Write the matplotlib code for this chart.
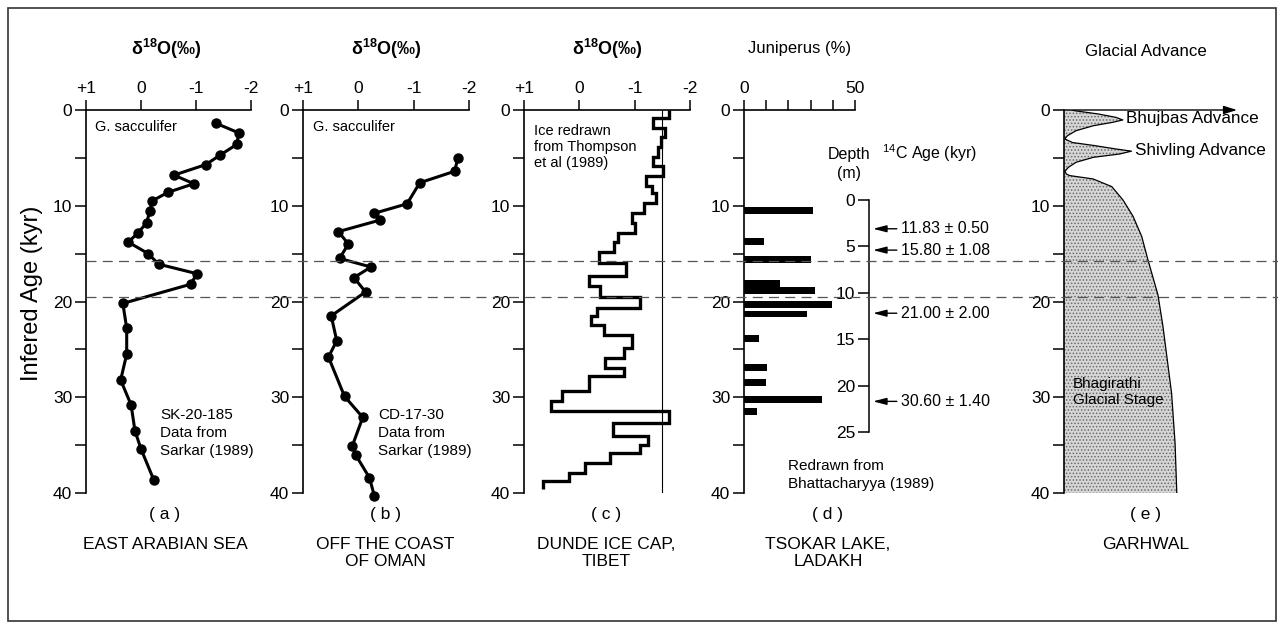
import matplotlib
matplotlib.use('Agg')
import matplotlib.pyplot as plt
from matplotlib import transforms
from matplotlib.lines import Line2D
from matplotlib.patches import Rectangle

plt.rcParams['font.family'] = ['Liberation Sans', 'DejaVu Sans']
plt.rcParams['hatch.linewidth'] = 0.7

# ---------------- data ----------------
# (a) East Arabian Sea, SK-20-185
a_age = [1.4, 2.4, 3.6, 4.7, 5.7, 6.8, 7.7, 8.6, 9.5, 10.6, 11.8, 12.8, 13.8,
         15.0, 16.1, 17.1, 18.2, 20.2, 22.8, 25.5, 28.2, 30.8, 33.5, 35.4, 38.6]
a_d18o = [-1.37, -1.78, -1.74, -1.44, -1.18, -0.60, -0.96, -0.49, -0.20, -0.16,
          -0.10, 0.05, 0.23, -0.13, -0.32, -1.02, -0.90, 0.33, 0.26, 0.26,
          0.37, 0.18, 0.11, 0.0, -0.23]

# (b) Off the coast of Oman, CD-17-30
b_age = [5.0, 6.4, 7.6, 9.8, 10.8, 11.5, 12.7, 14.0, 15.5, 16.4, 17.5, 19.0,
         21.5, 24.1, 25.8, 29.9, 32.1, 35.1, 36.0, 38.4, 40.3]
b_d18o = [-1.80, -1.74, -1.11, -0.88, -0.28, -0.39, 0.36, 0.18, 0.34, -0.23,
          0.08, -0.13, 0.49, 0.39, 0.54, 0.25, -0.08, 0.11, 0.05, -0.20, -0.29]

# (c) Dunde ice cap (stepped record): age edges and values between them
c_edges = [0.0, 0.87, 1.91, 2.78, 3.90, 4.87, 5.84, 6.89, 7.93, 8.63, 9.74,
           10.78, 11.83, 12.87, 13.81, 14.78, 16.0, 17.32, 18.43, 19.48, 20.7,
           21.5, 22.43, 23.48, 24.87, 25.91, 26.96, 27.83, 29.39, 30.43, 31.48,
           32.7, 34.02, 34.96, 35.83, 36.87, 37.91, 38.78, 39.6]
c_d18o = [-1.62, -1.33, -1.54, -1.48, -1.43, -1.34, -1.51, -1.21, -1.31, -1.39,
          -1.16, -0.95, -1.01, -0.69, -0.63, -0.35, -0.85, -0.18, -0.37, -1.09,
          -0.32, -0.21, -0.44, -0.96, -0.80, -0.46, -0.80, -0.18, 0.31, 0.52,
          -1.62, -0.61, -1.24, -1.10, -0.55, -0.11, 0.18, 0.66]
c_ref = -1.5

# (d) Tsokar Lake, Juniperus (%)
d_age = [10.5, 13.7, 15.65, 18.15, 18.85, 20.3, 21.3, 23.9, 26.9, 28.45, 30.25, 31.5]
d_pct = [31.2, 8.9, 30.1, 16.1, 31.9, 39.5, 28.5, 6.8, 10.4, 9.8, 35.0, 6.0]
depth_ticks = [0, 5, 10, 15, 20, 25]
c14_depth = [3.1, 5.4, 12.2, 21.7]
c14_labels = ['11.83 \u00b1 0.50', '15.80 \u00b1 1.08', '21.00 \u00b1 2.00', '30.60 \u00b1 1.40']

# (e) Garhwal glacial advance profile (relative extent)
e_age = [0.0, 0.07, 0.42, 0.77, 1.04, 1.29, 1.64, 2.16, 2.68, 3.03, 3.4, 3.7,
         4.07, 4.3, 4.6, 4.94, 5.46, 5.99, 6.4, 6.68, 6.85, 7.2, 8.0, 9.4,
         11.1, 13.2, 15.7, 19.3, 22.6, 29.6, 34.8, 40.0]
e_ext = [5, 6, 20, 30, 34, 28, 17, 7, 2, 0.5, 5, 17, 30, 39, 32, 17, 7, 2.5,
         0.6, 1.3, 3.3, 16.8, 27.6, 34.1, 39.9, 44.9, 48.6, 54.3, 57.2, 62.2,
         64.2, 65.2]

# timing of the dashed reference horizons (kyr)
horizons = [15.8, 19.5]

# ---------------- figure ----------------
W, H = 1278, 625
fig = plt.figure(figsize=(W / 100, H / 100), dpi=100)


def rect(l, r, t=110, b=493):
    return [l / W, 1 - b / H, (r - l) / W, (b - t) / H]


def ftext(x, y, s, **kw):
    kw.setdefault('fontsize', 11)
    kw.setdefault('ha', 'center')
    kw.setdefault('va', 'center')
    fig.text(x / W, 1 - y / H, s, **kw)


def style(ax, xlim, xticks, xlabels):
    ax.set_ylim(40, 0)
    ax.set_xlim(*xlim)
    ax.patch.set_alpha(0)
    for s in ['right', 'bottom']:
        ax.spines[s].set_visible(False)
    for s in ['left', 'top']:
        ax.spines[s].set_linewidth(1.2)
    ax.xaxis.tick_top()
    ax.set_xticks(xticks)
    ax.set_xticklabels(xlabels)
    ax.set_yticks([0, 10, 20, 30, 40])
    ax.set_yticks([5, 15, 25, 35], minor=True)
    ax.tick_params(axis='y', which='both', direction='out', length=8, width=1.1,
                   labelsize=12.5, pad=2)
    ax.tick_params(axis='x', which='both', direction='out', length=7, width=1.1,
                   labelsize=12.5, pad=3)


d18_ticks = [1, 0, -1, -2]
d18_labels = ['+1', '0', '-1', '-2']

ax_a = fig.add_axes(rect(86, 251))
style(ax_a, (1, -2), d18_ticks, d18_labels)
ax_a.plot(a_d18o, a_age, '-o', color='k', lw=2.2, ms=6.5, clip_on=False)

ax_b = fig.add_axes(rect(303, 469))
style(ax_b, (1, -2), d18_ticks, d18_labels)
ax_b.plot(b_d18o, b_age, '-o', color='k', lw=2.2, ms=6.5, clip_on=False)

ax_c = fig.add_axes(rect(524, 690))
style(ax_c, (1, -2), d18_ticks, d18_labels)
ax_c.stairs(c_d18o, c_edges, orientation='horizontal', baseline=None,
            color='k', lw=2.4)
ax_c.plot([c_ref, c_ref], [0, 40], color='k', lw=0.8)

ax_d = fig.add_axes(rect(744, 855))
style(ax_d, (0, 50), [0, 10, 20, 30, 40, 50], ['0', '', '', '', '', '50'])
ax_d.barh(d_age, d_pct, height=0.7, color='k')

ax_e = fig.add_axes(rect(1064, 1237))
style(ax_e, (0, 100), [], [])
ax_e.spines['top'].set_visible(False)
ax_e.fill_betweenx(e_age, 0, e_ext, facecolor='#d6d6d6', edgecolor='#6a6a6a',
                   hatch='.....', linewidth=0)
ax_e.plot(e_ext, e_age, color='k', lw=0.9)
ax_e.annotate('', xy=(100, 0), xytext=(0, 0),
              arrowprops=dict(arrowstyle='-|>,head_length=0.8,head_width=0.25',
                              color='k', lw=1.0, shrinkA=0, shrinkB=0),
              annotation_clip=False)

# depth axis for (d)
ax_dep = fig.add_axes([869 / W, 1 - 432 / H, 0.0005, (432 - 200) / H])
ax_dep.set_ylim(25, 0)
ax_dep.patch.set_alpha(0)
for s in ['right', 'bottom', 'top']:
    ax_dep.spines[s].set_visible(False)
ax_dep.spines['left'].set_linewidth(1.1)
ax_dep.set_xticks([])
ax_dep.set_yticks(depth_ticks)
ax_dep.tick_params(axis='y', direction='out', length=8, width=1.1, labelsize=12.5, pad=2)

tr_dep = transforms.blended_transform_factory(fig.transFigure, ax_dep.transData)
for dep, lab in zip(c14_depth, c14_labels):
    ax_dep.annotate(lab, xy=(873 / W, dep), xytext=(901 / W, dep),
                    xycoords=tr_dep, textcoords=tr_dep, ha='left', va='center',
                    fontsize=11.5, annotation_clip=False,
                    arrowprops=dict(arrowstyle='-|>,head_length=0.7,head_width=0.18',
                                    color='k', lw=1.0, shrinkA=1, shrinkB=0))

# dashed horizons across the figure
tr_h = transforms.blended_transform_factory(fig.transFigure, ax_a.transData)
for hz in horizons:
    fig.add_artist(Line2D([86 / W, 1.0], [hz, hz], transform=tr_h, color='#555555',
                          lw=0.9, ls=(0, (8, 5)), zorder=5))

# frame
fig.add_artist(Rectangle((8 / W, 1 - 621 / H), (1276 - 8) / W, (621 - 8) / H,
                         transform=fig.transFigure, fill=False, lw=1.2,
                         edgecolor='#333333'))

# titles
d18_title = '\u03b4$^{\\mathregular{18}}$O(\u2030)'
for cx in [166, 386, 607]:
    ftext(cx, 49, d18_title, fontsize=13, fontweight='bold')
ftext(800, 49, 'Juniperus (%)', fontsize=12)
ftext(1146, 52, 'Glacial Advance', fontsize=12.2)

# y label
ftext(32, 293, 'Infered Age (kyr)', fontsize=17, rotation=90)

# annotations
ftext(95, 127, 'G. sacculifer', ha='left', fontsize=10.5)
ftext(313, 127, 'G. sacculifer', ha='left', fontsize=10.5)
ftext(160, 433, 'SK-20-185\nData from\nSarkar (1989)', ha='left', fontsize=11,
      linespacing=1.4)
ftext(378, 433, 'CD-17-30\nData from\nSarkar (1989)', ha='left', fontsize=11,
      linespacing=1.4)
ftext(534, 147, 'Ice redrawn\nfrom Thompson\net al (1989)', ha='left', fontsize=10.5,
      linespacing=1.2)
ftext(788, 475, 'Redrawn from\nBhattacharyya (1989)', ha='left', fontsize=11,
      linespacing=1.3)
ftext(849, 164, 'Depth\n(m)', fontsize=11.5, linespacing=1.3)
ftext(882, 153, '$^{\\mathregular{14}}$C Age (kyr)', ha='left', fontsize=11.5)
ftext(1126, 119, 'Bhujbas Advance', ha='left', fontsize=12.3)
ftext(1135, 151, 'Shivling Advance', ha='left', fontsize=12.3)
ftext(1073, 392, 'Bhagirathi\nGlacial Stage', ha='left', fontsize=11,
      linespacing=1.2)

# panel letters and site names
for cx, lt, nm in [(165, '( a )', 'EAST ARABIAN SEA'),
                   (385, '( b )', 'OFF THE COAST\nOF OMAN'),
                   (606, '( c )', 'DUNDE ICE CAP,\nTIBET'),
                   (828, '( d )', 'TSOKAR LAKE,\nLADAKH'),
                   (1146, '( e )', 'GARHWAL')]:
    ftext(cx, 514, lt, fontsize=12.5)
    ftext(cx, 537, nm, fontsize=12.5, va='top', linespacing=1.15)

fig.savefig('out.png', dpi=100)
